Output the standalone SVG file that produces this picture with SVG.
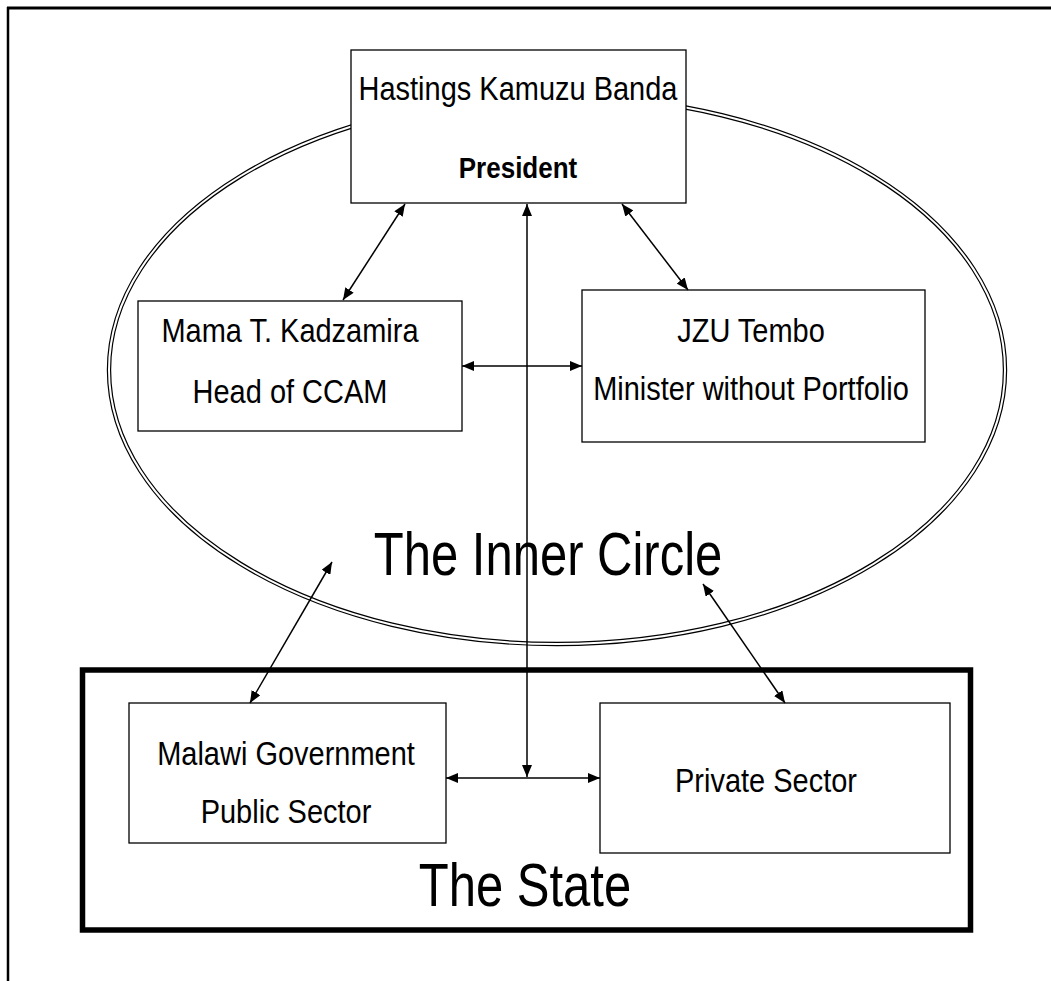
<svg xmlns="http://www.w3.org/2000/svg" width="1051" height="981" viewBox="0 0 1051 981">
<style>
.box{fill:#fff;stroke:#000;stroke-width:1.3}
.t{font-family:"Liberation Sans",Arial,sans-serif;font-size:29px;fill:#000;text-anchor:middle}
.b{font-weight:bold;font-size:26px}
.big{font-size:49px}
.c{stroke:#000;stroke-width:1.5;fill:none;marker-start:url(#ah);marker-end:url(#ah)}
</style>
<defs>
<marker id="ah" viewBox="0 0 12 10" refX="12" refY="5" markerWidth="12" markerHeight="10" markerUnits="userSpaceOnUse" orient="auto-start-reverse">
<path d="M0,0 L12,5 L0,10 Z" fill="#000"/>
</marker>
</defs>
<g id="page-border">
<line x1="7" y1="8" x2="1051" y2="8" stroke="#000" stroke-width="3"/>
<line x1="8" y1="7" x2="8" y2="981" stroke="#000" stroke-width="2.5"/>
</g>
<g id="inner-circle">
<ellipse cx="557" cy="370" rx="448" ry="274" fill="none" stroke="#000" stroke-width="4.4"/>
<ellipse cx="557" cy="370" rx="448" ry="274" fill="none" stroke="#fff" stroke-width="2"/>
<text class="t big" transform="translate(548,575) scale(1,1.25)">The Inner Circle</text>
</g>
<g id="the-state">
<rect x="82.5" y="670" width="888" height="260" fill="none" stroke="#000" stroke-width="5.5"/>
<text class="t big" transform="translate(525,906) scale(1,1.25)">The State</text>
</g>
<g id="president">
<rect class="box" x="351" y="50" width="335" height="153"/>
<text class="t" transform="translate(518,100) scale(1,1.12)">Hastings Kamuzu Banda</text>
<text class="t b" transform="translate(518,178) scale(1,1.1)">President</text>
</g>
<g id="kadzamira">
<rect class="box" x="138" y="301" width="324" height="130"/>
<text class="t" transform="translate(290,342) scale(1,1.12)">Mama T. Kadzamira</text>
<text class="t" transform="translate(290,403) scale(1,1.12)">Head of CCAM</text>
</g>
<g id="tembo">
<rect class="box" x="582" y="290" width="343" height="152"/>
<text class="t" transform="translate(751,342) scale(1,1.12)">JZU Tembo</text>
<text class="t" transform="translate(751,400) scale(1,1.12)">Minister without Portfolio</text>
</g>
<g id="government">
<rect class="box" x="129" y="703" width="317" height="140"/>
<text class="t" transform="translate(286,765) scale(1,1.12)">Malawi Government</text>
<text class="t" transform="translate(286,823) scale(1,1.12)">Public Sector</text>
</g>
<g id="private">
<rect class="box" x="600" y="703" width="350" height="150"/>
<text class="t" transform="translate(766,792) scale(1,1.12)">Private Sector</text>
</g>
<g id="connectors">
<line class="c" x1="405" y1="204" x2="343" y2="300"/>
<line class="c" x1="622" y1="204" x2="688" y2="290"/>
<line class="c" x1="462" y1="366" x2="582" y2="366"/>
<line class="c" x1="527" y1="204" x2="527" y2="777"/>
<line class="c" x1="446" y1="778" x2="600" y2="778"/>
<line class="c" x1="332" y1="562" x2="250" y2="703"/>
<line class="c" x1="703" y1="584" x2="785" y2="703"/>
</g>
</svg>
